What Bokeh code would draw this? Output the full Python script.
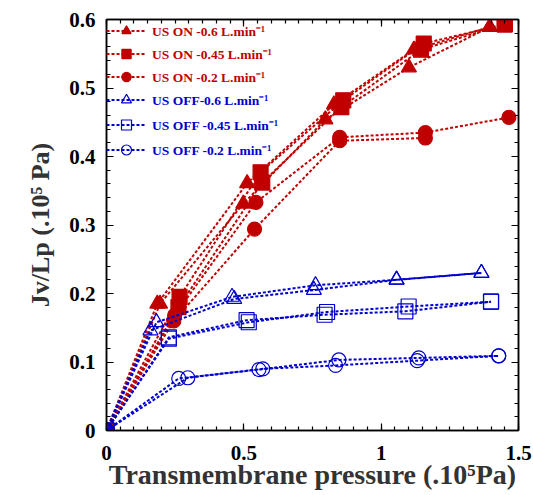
from bokeh.plotting import figure
from bokeh.models import (LinearAxis, Legend, LegendItem, Range1d,
                          FixedTicker, Title)
from bokeh.embed import file_html
from bokeh.resources import INLINE

# ---------------- data ----------------
# US ON -0.6 L/min (two runs)
on06_a_x = [0, 0.185, 0.512, 0.828, 1.119, 1.395]
on06_a_y = [0, 0.185, 0.361, 0.476, 0.556, 0.589]
on06_b_x = [0, 0.195, 0.498, 0.797, 1.101, 1.395]
on06_b_y = [0, 0.185, 0.331, 0.454, 0.530, 0.589]
# US ON -0.45 L/min
on045_a_x = [0, 0.266, 0.561, 0.862, 1.155, 1.450]
on045_a_y = [0, 0.195, 0.377, 0.482, 0.565, 0.593]
on045_b_x = [0, 0.262, 0.567, 0.855, 1.145, 1.450]
on045_b_y = [0, 0.180, 0.362, 0.472, 0.556, 0.593]
# US ON -0.2 L/min
on02_a_x = [0, 0.248, 0.544, 0.849, 1.161, 1.465]
on02_a_y = [0, 0.168, 0.333, 0.428, 0.435, 0.457]
on02_b_x = [0, 0.245, 0.539, 0.849, 1.161]
on02_b_y = [0, 0.160, 0.294, 0.423, 0.427]
# US OFF -0.6 L/min
off06_a_x = [0, 0.182, 0.457, 0.761, 1.056, 1.365]
off06_a_y = [0, 0.158, 0.195, 0.212, 0.220, 0.230]
off06_b_x = [0, 0.160, 0.465, 0.755, 1.056, 1.365]
off06_b_y = [0, 0.146, 0.192, 0.205, 0.220, 0.230]
# US OFF -0.45 L/min
off045_a_x = [0, 0.227, 0.518, 0.803, 1.100, 1.400]
off045_a_y = [0, 0.134, 0.158, 0.173, 0.181, 0.188]
off045_b_x = [0, 0.227, 0.510, 0.794, 1.088, 1.400]
off045_b_y = [0, 0.136, 0.161, 0.169, 0.174, 0.188]
# US OFF -0.2 L/min
off02_a_x = [0, 0.263, 0.555, 0.846, 1.137, 1.428]
off02_a_y = [0, 0.076, 0.089, 0.103, 0.106, 0.109]
off02_b_x = [0, 0.296, 0.569, 0.834, 1.131, 1.428]
off02_b_y = [0, 0.077, 0.090, 0.095, 0.102, 0.109]

labels = ["US ON -0.6 L.min\u207b\u00b9", "US ON -0.45 L.min\u207b\u00b9",
          "US ON -0.2 L.min\u207b\u00b9", "US OFF-0.6 L.min\u207b\u00b9",
          "US OFF -0.45 L.min\u207b\u00b9", "US OFF -0.2 L.min\u207b\u00b9"]

x_ticks = [0, 0.5, 1, 1.5]
x_tick_labels = ["0", "0.5", "1", "1.5"]
y_ticks = [0, 0.1, 0.2, 0.3, 0.4, 0.5, 0.6]
y_tick_labels = ["0", "0.1", "0.2", "0.3", "0.4", "0.5", "0.6"]
x_minor = [round(i * 0.05, 4) for i in range(31)]
y_minor = [round(i * 0.02, 4) for i in range(31)]

x_title = "Transmembrane pressure (.10\u2075Pa)"
y_title = "Jv/Lp (.10\u2075 Pa)"

RED = "#C00000"
BLUE = "#0000CC"
FONT = "Liberation Serif"

p = figure(width=533, height=495, output_backend="svg", toolbar_location=None,
           x_range=Range1d(0, 1.5), y_range=Range1d(0, 0.6),
           min_border_left=106, min_border_top=19, min_border_right=15,
           min_border_bottom=65)
p.grid.visible = False
p.outline_line_color = "black"
p.outline_line_width = 1.5
p.background_fill_color = "white"

series = [
    (labels[0], [(on06_a_x, on06_a_y), (on06_b_x, on06_b_y)], "triangle", RED, True, 15),
    (labels[1], [(on045_a_x, on045_a_y), (on045_b_x, on045_b_y)], "square", RED, True, 15),
    (labels[2], [(on02_a_x, on02_a_y), (on02_b_x, on02_b_y)], "circle", RED, True, 14),
    (labels[3], [(off06_a_x, off06_a_y), (off06_b_x, off06_b_y)], "triangle", BLUE, False, 15),
    (labels[4], [(off045_a_x, off045_a_y), (off045_b_x, off045_b_y)], "square", BLUE, False, 15),
    (labels[5], [(off02_a_x, off02_a_y), (off02_b_x, off02_b_y)], "circle", BLUE, False, 14),
]

items_red, items_blue = [], []
for label, runs, marker, color, filled, size in series:
    first = None
    for xs, ys in runs:
        lr = p.line(xs, ys, line_color=color, line_width=2, line_dash="3 2")
        sr = p.scatter(xs, ys, marker=marker, size=size, line_color=color,
                       fill_color=color if filled else None, line_width=1.2)
        if first is None:
            first = [lr, sr]
    item = LegendItem(label=label, renderers=first)
    (items_red if filled else items_blue).append(item)

def style_legend(lg, color, row_h):
    lg.label_text_font = FONT
    lg.label_text_font_style = "bold"
    lg.label_text_font_size = "13.5px"
    lg.label_text_color = color
    lg.glyph_width = 40
    lg.glyph_height = row_h
    lg.label_height = row_h
    lg.spacing = 0
    lg.padding = 0
    lg.margin = 0
    lg.label_standoff = 6
    lg.border_line_alpha = 0
    lg.background_fill_alpha = 0

leg_red = Legend(items=items_red, location="top_left")
style_legend(leg_red, RED, 23)
leg_blue = Legend(items=items_blue, location=(0, 268))
style_legend(leg_blue, BLUE, 25)
p.add_layout(leg_red)
p.add_layout(leg_blue)

def style_axis(ax, show_labels):
    ax.axis_line_width = 1.5
    ax.axis_line_color = "black"
    ax.major_tick_in = 7
    ax.major_tick_out = 0
    ax.minor_tick_in = 4
    ax.minor_tick_out = 0
    ax.major_tick_line_width = 1.2
    ax.minor_tick_line_width = 1.2
    if show_labels:
        ax.major_label_text_font = FONT
        ax.major_label_text_font_style = "bold"
        ax.major_label_text_font_size = "21px"
        ax.major_label_text_color = "black"
        ax.axis_label_text_font = FONT
        ax.axis_label_text_font_style = "bold"
        ax.axis_label_text_font_size = "28px"
        ax.axis_label_text_color = "#333333"
    else:
        ax.major_label_text_font_size = "1px"
        ax.major_label_text_color = None
        ax.major_label_standoff = 0

p.xaxis.ticker = FixedTicker(ticks=x_ticks, minor_ticks=x_minor)
p.yaxis.ticker = FixedTicker(ticks=y_ticks, minor_ticks=y_minor)
p.xaxis.major_label_overrides = dict(zip(x_ticks, x_tick_labels))
p.yaxis.major_label_overrides = dict(zip(y_ticks, y_tick_labels))
p.xaxis.axis_label = x_title
style_axis(p.xaxis[0], True)
style_axis(p.yaxis[0], True)
p.xaxis.major_label_standoff = 15
p.xaxis.axis_label_standoff = -4
p.yaxis.major_label_standoff = 11

ytitle = Title(text=y_title, align="center", vertical_align="top",
               offset=75, standoff=20,
               text_font=FONT, text_font_style="bold", text_font_size="26px",
               text_color="#333333")
p.add_layout(ytitle, "left")

ax_top = LinearAxis(ticker=FixedTicker(ticks=x_ticks, minor_ticks=x_minor))
ax_right = LinearAxis(ticker=FixedTicker(ticks=y_ticks, minor_ticks=y_minor))
style_axis(ax_top, False)
style_axis(ax_right, False)
p.add_layout(ax_top, "above")
p.add_layout(ax_right, "right")

open("out.html", "w").write(file_html(p, INLINE))
